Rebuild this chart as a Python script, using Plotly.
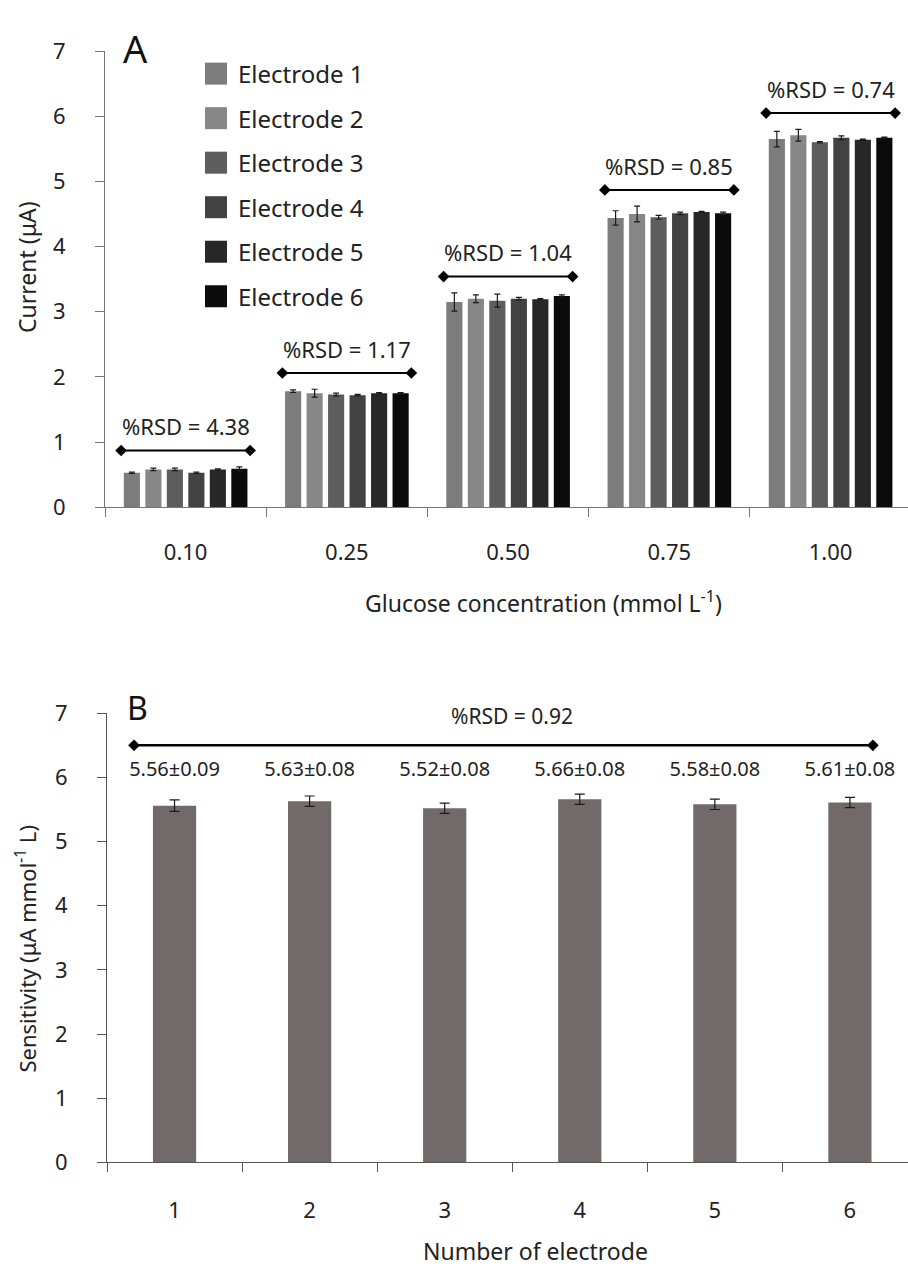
import plotly.graph_objects as go

# ---------------- data ----------------
concentrations = ["0.10", "0.25", "0.50", "0.75", "1.00"]
electrodes = ["Electrode 1", "Electrode 2", "Electrode 3", "Electrode 4", "Electrode 5", "Electrode 6"]

current_e1 = [0.53, 1.78, 3.15, 4.44, 5.65]
current_e2 = [0.58, 1.75, 3.20, 4.50, 5.71]
current_e3 = [0.58, 1.73, 3.17, 4.45, 5.60]
current_e4 = [0.53, 1.72, 3.20, 4.51, 5.67]
current_e5 = [0.58, 1.75, 3.19, 4.53, 5.64]
current_e6 = [0.59, 1.75, 3.24, 4.51, 5.67]

err_e1 = [0.01, 0.02, 0.14, 0.11, 0.12]
err_e2 = [0.02, 0.06, 0.06, 0.12, 0.09]
err_e3 = [0.02, 0.02, 0.10, 0.03, 0.01]
err_e4 = [0.01, 0.01, 0.02, 0.02, 0.03]
err_e5 = [0.01, 0.01, 0.01, 0.01, 0.01]
err_e6 = [0.03, 0.01, 0.02, 0.02, 0.01]

rsd_a = ["4.38", "1.17", "1.04", "0.85", "0.74"]

electrode_numbers = ["1", "2", "3", "4", "5", "6"]
sensitivity = [5.56, 5.63, 5.52, 5.66, 5.58, 5.61]
sensitivity_err = [0.09, 0.08, 0.08, 0.08, 0.08, 0.08]
rsd_b = "0.92"

currents = [current_e1, current_e2, current_e3, current_e4, current_e5, current_e6]
errors = [err_e1, err_e2, err_e3, err_e4, err_e5, err_e6]

# ---------------- style ----------------
W, H = 908, 1277
FONT = "Noto Sans"
TXT = "#222222"
bar_colors = ["#7c7c7c", "#878787", "#5d5d5d", "#424242", "#272727", "#0b0b0b"]
b_color = "#726a6a"


def px_x(p):
    return p / W


def px_y(p):
    return 1 - p / H


A_left, A_top, A_bottom = 105, 36, 503
B_left, B_top, B_bottom = 107, 714, 1174
A_range = [-0.5, 4.48]
B_range = [-0.5, 5.43]

fig = go.Figure()

# Panel A bars
for name, vals, errs, col in zip(electrodes, currents, errors, bar_colors):
    fig.add_trace(go.Bar(
        x=concentrations, y=vals, name=name, marker_color=col,
        marker_line_width=0,
        error_y=dict(type="data", array=errs, color="#1a1a1a", thickness=1.2, width=3),
        xaxis="x", yaxis="y", showlegend=False,
    ))

# Panel A RSD lines (numeric overlay axis)
line_offset = 0.25
text_offset = 0.37
for i, lab in enumerate(rsd_a):
    top = max(c[i] + e[i] for c, e in zip(currents, errors))
    ly = top + line_offset
    fig.add_trace(go.Scatter(
        x=[i - 0.4, i + 0.4], y=[ly, ly], mode="lines+markers",
        line=dict(color="black", width=2),
        marker=dict(symbol="diamond", size=9, color="black"),
        xaxis="x3", yaxis="y", showlegend=False, hoverinfo="skip",
    ))
    fig.add_annotation(x=i, y=ly + text_offset, xref="x3", yref="y",
                       text=f"%RSD = {lab}", showarrow=False,
                       xanchor="center", yanchor="middle",
                       font=dict(family=FONT, size=22, color=TXT))

# Panel B bars
fig.add_trace(go.Bar(
    x=electrode_numbers, y=sensitivity, marker_color=b_color, width=0.32,
    marker_line_width=0,
    error_y=dict(type="data", array=sensitivity_err, color="#1a1a1a", thickness=1.2, width=5),
    xaxis="x2", yaxis="y2", showlegend=False,
))

# Panel B value labels
label_y = 6.1
fig.add_trace(go.Scatter(
    x=electrode_numbers, y=[label_y] * len(electrode_numbers), mode="text",
    text=[f"{v:.2f}±{e:.2f}" for v, e in zip(sensitivity, sensitivity_err)],
    textposition="middle center",
    textfont=dict(family=FONT, size=20, color=TXT),
    xaxis="x2", yaxis="y2", showlegend=False, hoverinfo="skip",
))

# Panel B RSD line
b_line_y = 6.5
fig.add_trace(go.Scatter(
    x=[-0.3, 5.17], y=[b_line_y, b_line_y], mode="lines+markers",
    line=dict(color="black", width=2.5),
    marker=dict(symbol="diamond", size=9, color="black"),
    xaxis="x4", yaxis="y2", showlegend=False, hoverinfo="skip",
))
fig.add_annotation(x=2.5, y=6.95, xref="x4", yref="y2", text=f"%RSD = {rsd_b}",
                   showarrow=False, xanchor="center", yanchor="middle",
                   font=dict(family=FONT, size=21, color=TXT))

# Custom legend (pixel axis)
leg_x, leg_y0, leg_dy = 216, 59, 45.6
fig.add_trace(go.Scatter(
    x=[leg_x] * len(electrodes), y=[leg_y0 + i * leg_dy for i in range(len(electrodes))],
    mode="markers", marker=dict(symbol="square", size=22, color=bar_colors, line_width=0),
    xaxis="x5", yaxis="y5", showlegend=False, hoverinfo="skip",
))
for i, name in enumerate(electrodes):
    fig.add_annotation(x=px_x(236), y=px_y(leg_y0 + i * leg_dy), xref="paper", yref="paper",
                       text=name, showarrow=False, xanchor="left", yanchor="middle",
                       font=dict(family=FONT, size=24, color=TXT))


def paper_text(x, y, text, size, angle=0, color=TXT):
    fig.add_annotation(x=px_x(x), y=px_y(y), xref="paper", yref="paper", text=text,
                       showarrow=False, xanchor="center", yanchor="middle",
                       textangle=angle, font=dict(family=FONT, size=size, color=color))


# panel letters
paper_text(135, 33, "A", 38, color="#111")
paper_text(137, 708, "B", 32, color="#111")

# axis titles
paper_text(543, 600, "Glucose concentration (mmol L<sup>-1</sup>)", 23)
paper_text(27, 257, "Current (μA)", 23, angle=-90)
paper_text(535, 1265, "Number of electrode", 23)
paper_text(26, 955, "Sensitivity (μA mmol<sup>-1</sup> L)", 22, angle=-90)

tickfont = dict(family=FONT, size=22, color=TXT)
common_x = dict(type="category", tickson="boundaries", ticks="outside", ticklen=9,
                tickcolor="#777", showline=True, linecolor="#777", linewidth=1,
                showgrid=False, zeroline=False, tickfont=tickfont, ticklabelstandoff=25)
common_y = dict(range=[0, 7], dtick=1, ticks="outside", ticklen=9, tickcolor="#777",
                showline=True, linecolor="#777", linewidth=1, showgrid=False,
                zeroline=False, tickfont=tickfont, ticklabelstandoff=25)

fig.update_layout(
    width=W, height=H, margin=dict(l=0, r=0, t=0, b=0),
    paper_bgcolor="white", plot_bgcolor="rgba(0,0,0,0)",
    barmode="group", bargap=0.2, bargroupgap=0.25,
    font=dict(family=FONT, color=TXT),
    xaxis=dict(domain=[px_x(A_left), 1], anchor="y", range=A_range,
               categoryorder="array", categoryarray=concentrations, **common_x),
    yaxis=dict(domain=[px_y(A_bottom), px_y(A_top)], anchor="x", **common_y),
    xaxis3=dict(domain=[px_x(A_left), 1], anchor="y", overlaying="x", range=A_range,
                visible=False),
    xaxis2=dict(domain=[px_x(B_left), 1], anchor="y2", range=B_range,
                categoryorder="array", categoryarray=electrode_numbers,
                **{**common_x, "linecolor": "#555", "tickcolor": "#555",
                   "ticklabelstandoff": 28}),
    yaxis2=dict(domain=[px_y(B_bottom), px_y(B_top)], anchor="x2",
                **{**common_y, "linecolor": "#555", "tickcolor": "#555"}),
    xaxis4=dict(domain=[px_x(B_left), 1], anchor="y2", overlaying="x2", range=B_range,
                visible=False),
    xaxis5=dict(domain=[0, 1], anchor="y5", range=[0, W], visible=False),
    yaxis5=dict(domain=[0, 1], anchor="x5", range=[H, 0], visible=False),
)

fig.write_html("out.html")
